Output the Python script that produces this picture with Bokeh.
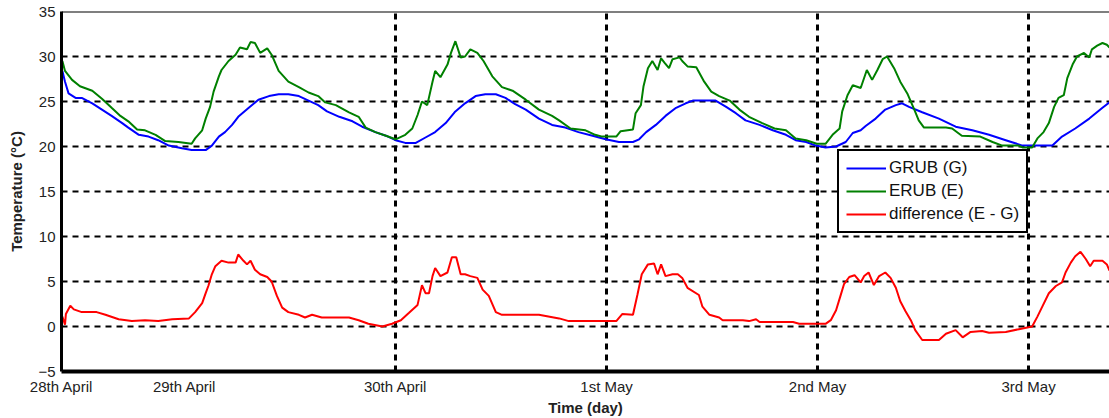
from bokeh.plotting import figure
from bokeh.models import Range1d, FixedTicker, Span, Legend, LegendItem
from bokeh.embed import file_html
from bokeh.resources import INLINE

# time in hours since 28th April 00:00
grub_t = [10.1, 10.4, 10.8, 11.6, 12.3, 13.5, 14.6, 15.7, 16.9, 17.6, 18.8, 19.9, 21.0, 22.2, 23.7, 24.8, 26.4, 27.1, 27.9, 28.6, 29.4, 30.1, 31.3, 32.4, 33.6, 34.7, 35.8, 37.0, 38.1, 39.2,
          40.2, 41.6, 43.1, 44.2, 45.7, 46.9, 48.0, 49.1, 50.3, 51.4, 52.5, 53.7, 54.8, 55.9, 57.1, 58.2, 59.4, 60.5, 61.6, 62.8, 64.3, 65.8, 67.3, 68.8,
          70.4, 71.9, 73.4, 75.0, 75.7, 76.5, 77.6, 78.7, 79.9, 81.0, 81.8, 83.3, 84.4, 85.6, 86.7, 87.8, 89.4, 90.9, 92.4, 93.5, 94.7, 95.8, 96.9, 98.1, 99.2,
          100.0, 100.9, 101.5, 102.6, 103.7, 104.9, 105.6, 106.4, 107.9, 109.8, 111.7, 113.6, 115.5, 117.4, 119.3, 121.2, 122.7, 123.8, 125.3, 126.9, 128.4, 129.2]
grub_v = [28.4, 27.2, 25.9, 25.4, 25.4, 24.8, 24.1, 23.4, 22.6, 22.1, 21.3, 21.1, 20.7, 20.1, 19.8, 19.6, 19.6, 20.1, 21.1, 21.6, 22.4, 23.3, 24.3, 25.2, 25.6, 25.8, 25.8, 25.6, 25.1, 24.6,
          23.9, 23.3, 22.8, 22.2, 21.6, 21.2, 20.7, 20.4, 20.4, 21.0, 21.6, 22.6, 23.9, 24.8, 25.6, 25.8, 25.8, 25.4, 24.7, 24.1, 23.1, 22.4, 22.1, 21.6,
          21.2, 20.8, 20.5, 20.5, 20.8, 21.6, 22.4, 23.4, 24.3, 24.8, 25.1, 25.1, 25.1, 24.4, 23.7, 22.9, 22.4, 21.8, 21.3, 20.7, 20.5, 20.1, 19.9, 20.0, 20.5,
          21.5, 21.8, 22.3, 23.1, 24.1, 24.6, 24.8, 24.4, 23.8, 23.1, 22.2, 21.8, 21.3, 20.7, 20.1, 20.1, 20.1, 21.1, 22.0, 23.1, 24.3, 24.9]

erub_t = [10.1, 10.4, 11.2, 12.1, 13.5, 14.6, 15.7, 16.7, 17.6, 18.6, 19.5, 20.7, 21.8, 23.3, 24.8, 25.2, 26.0, 26.4, 26.9, 27.3, 27.9, 28.2, 29.0, 29.8, 30.3, 31.1, 31.5, 32.0, 32.6, 33.4, 33.9, 34.7, 35.8, 37.0, 38.1, 39.2,
          40.0, 41.2, 42.7, 43.8, 44.6, 45.7, 46.9, 48.0, 49.1, 49.9, 50.5, 51.0, 51.6, 52.2, 52.5, 53.1, 53.9, 54.3, 54.8, 55.4, 55.9, 56.5, 57.3, 58.0, 59.0, 60.1, 61.3, 62.8, 64.3, 65.8, 66.6, 67.9, 69.6,
          70.7, 71.5, 73.1, 73.6, 75.0, 75.3, 75.9, 76.2, 76.7, 77.2, 77.8, 78.2, 78.6, 79.1, 79.5, 80.3, 80.6, 81.2, 82.2, 83.1, 83.9, 84.8, 86.0, 87.1, 88.2, 89.7, 91.1, 92.4, 93.5, 94.7, 95.9, 96.9, 97.7, 98.5, 98.8, 99.4, 100.0,
          100.9, 101.6, 102.2, 102.8, 103.4, 103.9, 104.7, 105.4, 106.2, 107.0, 107.5, 108.1, 109.0, 110.6, 111.3, 112.4, 114.5, 115.9, 117.0, 118.9, 119.3, 120.4, 121.0, 121.7, 122.3, 122.9, 123.4, 124.0, 124.4, 125.0, 125.5, 126.3, 126.9, 127.2, 127.8, 128.4, 128.9, 129.2]
erub_v = [29.5, 28.4, 27.4, 26.7, 26.2, 25.3, 24.3, 23.4, 22.8, 21.9, 21.8, 21.3, 20.6, 20.5, 20.3, 20.9, 21.8, 23.1, 24.4, 26.1, 27.8, 28.5, 29.5, 30.2, 31.0, 30.8, 31.6, 31.5, 30.4, 30.9, 30.2, 28.4, 27.2, 26.6, 26.0, 25.6,
          24.9, 24.6, 23.8, 23.3, 22.1, 21.6, 21.2, 20.8, 21.3, 22.0, 23.5, 25.0, 24.6, 27.2, 28.4, 27.7, 29.1, 30.4, 31.7, 29.9, 30.0, 30.8, 30.4, 29.5, 27.8, 26.6, 26.2, 25.2, 24.1, 23.4, 22.9, 22.0, 21.8,
          21.3, 21.1, 21.1, 21.7, 21.9, 23.7, 24.6, 26.7, 28.7, 29.5, 28.5, 29.8, 29.3, 28.7, 29.7, 29.9, 29.5, 28.9, 28.8, 27.2, 26.1, 25.6, 25.1, 24.1, 23.3, 22.6, 22.0, 21.8, 20.9, 20.7, 20.3, 20.3, 21.3, 22.0, 23.9, 25.7, 26.8,
          26.5, 28.5, 27.4, 28.5, 29.7, 30.0, 28.7, 27.2, 25.9, 24.1, 22.9, 22.1, 22.1, 22.1, 22.0, 21.2, 21.1, 20.5, 20.1, 20.1, 19.9, 19.9, 20.9, 21.6, 22.6, 24.4, 25.4, 25.7, 27.6, 29.1, 30.0, 30.4, 29.9, 30.8, 31.2, 31.5, 31.3, 31.0]

diff_t = [10.1, 10.4, 10.5, 11.0, 11.4, 12.3, 14.0, 15.0, 16.5, 18.0, 19.5, 21.0, 22.6, 24.5, 25.2, 26.0, 26.4, 26.7, 27.1, 27.5, 28.2, 29.0, 29.8, 30.1, 30.7, 31.1, 31.5, 32.0, 32.6, 33.4, 33.9, 34.5, 35.1, 35.8, 37.0, 37.7, 38.5, 39.6,
          40.4, 42.7, 43.8, 44.9, 46.5, 47.6, 48.6, 49.5, 50.5, 51.0, 51.4, 51.8, 52.2, 52.5, 53.1, 53.9, 54.4, 54.9, 55.4, 55.9, 56.5, 57.3, 57.9, 58.6, 59.4, 60.1, 64.3, 66.6, 67.7,
          70.7, 73.1, 73.8, 75.0, 75.5, 76.0, 76.7, 77.4, 77.8, 78.2, 78.7, 79.5, 80.1, 80.6, 81.2, 82.5, 82.9, 83.7, 84.8, 85.2, 87.5, 88.2, 89.0, 89.4, 93.2, 93.9, 96.9, 97.5, 98.1, 98.6, 99.0, 99.6, 100.2,
          100.9, 101.3, 101.8, 102.4, 103.0, 103.7, 104.3, 104.9, 105.4, 106.0, 106.6, 107.1, 107.9, 109.8, 110.6, 111.7, 112.5, 113.4, 114.7, 115.5, 117.4, 118.9, 120.4, 121.0, 121.5, 122.3, 123.1, 123.8, 124.2, 124.8, 125.3, 125.9, 126.5, 127.0, 127.4, 128.4, 128.9, 129.2]
diff_v = [1.1, 0.2, 1.4, 2.3, 1.9, 1.6, 1.6, 1.3, 0.8, 0.6, 0.7, 0.6, 0.8, 0.9, 1.6, 2.6, 3.7, 4.5, 5.8, 6.7, 7.3, 7.1, 7.1, 8.0, 7.3, 6.9, 7.3, 6.3, 5.8, 5.5, 5.0, 3.4, 2.1, 1.6, 1.3, 1.0, 1.3, 1.0,
          1.0, 1.0, 0.7, 0.3, 0.0, 0.3, 0.7, 1.5, 2.4, 4.6, 3.7, 3.7, 5.6, 6.5, 5.6, 6.0, 7.7, 7.7, 5.8, 5.8, 5.6, 5.4, 4.1, 3.4, 1.6, 1.3, 1.3, 0.9, 0.6,
          0.6, 0.6, 1.4, 1.3, 3.5, 5.8, 6.9, 7.0, 5.8, 6.9, 5.6, 5.8, 5.8, 5.4, 4.3, 3.5, 2.2, 1.3, 1.0, 0.7, 0.7, 0.6, 0.8, 0.5, 0.5, 0.3, 0.3, 0.7, 1.8, 3.4, 4.7, 5.5, 5.7,
          4.9, 5.6, 6.0, 4.6, 5.6, 6.0, 5.4, 4.3, 2.8, 1.7, 0.7, -0.4, -1.5, -1.5, -0.8, -0.4, -1.2, -0.6, -0.5, -0.7, -0.6, -0.3, 0.0, 1.1, 2.1, 3.7, 4.5, 4.9, 6.0, 7.1, 7.8, 8.3, 7.5, 6.7, 7.3, 7.3, 6.9, 6.2]

x_tick_pos = [10, 24, 48, 72, 96, 120]
x_tick_labels = ["28th April", "29th April", "30th April", "1st May", "2nd May", "3rd May"]
x_grid_pos = [48, 72, 96, 120]
y_ticks = [-5, 0, 5, 10, 15, 20, 25, 30, 35]
labels = ["GRUB (G)", "ERUB (E)", "difference (E - G)"]
colors = ["#0000ff", "#008000", "#ff0000"]

FONT = "Liberation Sans"

p = figure(width=1109, height=418, output_backend="svg", toolbar_location=None,
           x_range=Range1d(10, 129.2), y_range=Range1d(-5, 35),
           min_border_left=61, min_border_right=0, min_border_top=11, min_border_bottom=47)
p.outline_line_color = None
p.background_fill_color = "white"
p.border_fill_color = "white"

r1 = p.line(grub_t, grub_v, line_color=colors[0], line_width=2)
r2 = p.line(erub_t, erub_v, line_color=colors[1], line_width=2)
r3 = p.line(diff_t, diff_v, line_color=colors[2], line_width=2)

# axes
p.xaxis.ticker = FixedTicker(ticks=x_tick_pos)
p.xaxis.major_label_overrides = {t: l for t, l in zip(x_tick_pos, x_tick_labels)}
p.yaxis.ticker = FixedTicker(ticks=y_ticks)
for ax in (p.xaxis[0], p.yaxis[0]):
    ax.major_tick_in = 0
    ax.major_tick_out = 0
    ax.minor_tick_in = 0
    ax.minor_tick_out = 0
    ax.axis_line_color = "black"
    ax.major_label_text_font = FONT
    ax.major_label_text_font_size = "15px"
    ax.major_label_text_color = "#222222"
    ax.axis_label_text_font = FONT
    ax.axis_label_text_font_size = "15px"
    ax.axis_label_text_font_style = "bold"
    ax.axis_label_text_color = "#222222"
p.xaxis.axis_line_width = 4
p.yaxis.axis_line_width = 3
p.xaxis.axis_label = "Time (day)"
p.yaxis.axis_label = "Temperature (\u00b0C)"
p.xaxis.major_label_standoff = 6
p.xaxis.axis_label_standoff = 1
p.yaxis.major_label_standoff = 6
p.yaxis.axis_label_standoff = 10

# grid
p.xgrid.ticker = FixedTicker(ticks=x_grid_pos)
p.ygrid.ticker = FixedTicker(ticks=[0, 5, 10, 15, 20, 25, 30])
p.xgrid.grid_line_color = "black"
p.xgrid.grid_line_width = 3
p.xgrid.grid_line_dash = "6 5"
p.ygrid.grid_line_color = "black"
p.ygrid.grid_line_width = 2
p.ygrid.grid_line_dash = "6 5"

# top frame line
p.add_layout(Span(location=35, dimension="width", line_color="black", line_width=2))

legend = Legend(items=[LegendItem(label=labels[0], renderers=[r1]),
                       LegendItem(label=labels[1], renderers=[r2]),
                       LegendItem(label=labels[2], renderers=[r3])],
                location=(776, 138))
legend.label_text_font = FONT
legend.label_text_font_size = "17px"
legend.label_text_color = "#111111"
legend.glyph_width = 40
legend.glyph_height = 20
legend.label_height = 20
legend.label_standoff = 3
legend.spacing = 3
legend.padding = 7
legend.margin = 0
legend.border_line_color = "black"
legend.border_line_alpha = 1
legend.border_line_width = 2
legend.background_fill_color = "white"
legend.background_fill_alpha = 1
p.add_layout(legend)

open("out.html", "w").write(file_html(p, INLINE))
